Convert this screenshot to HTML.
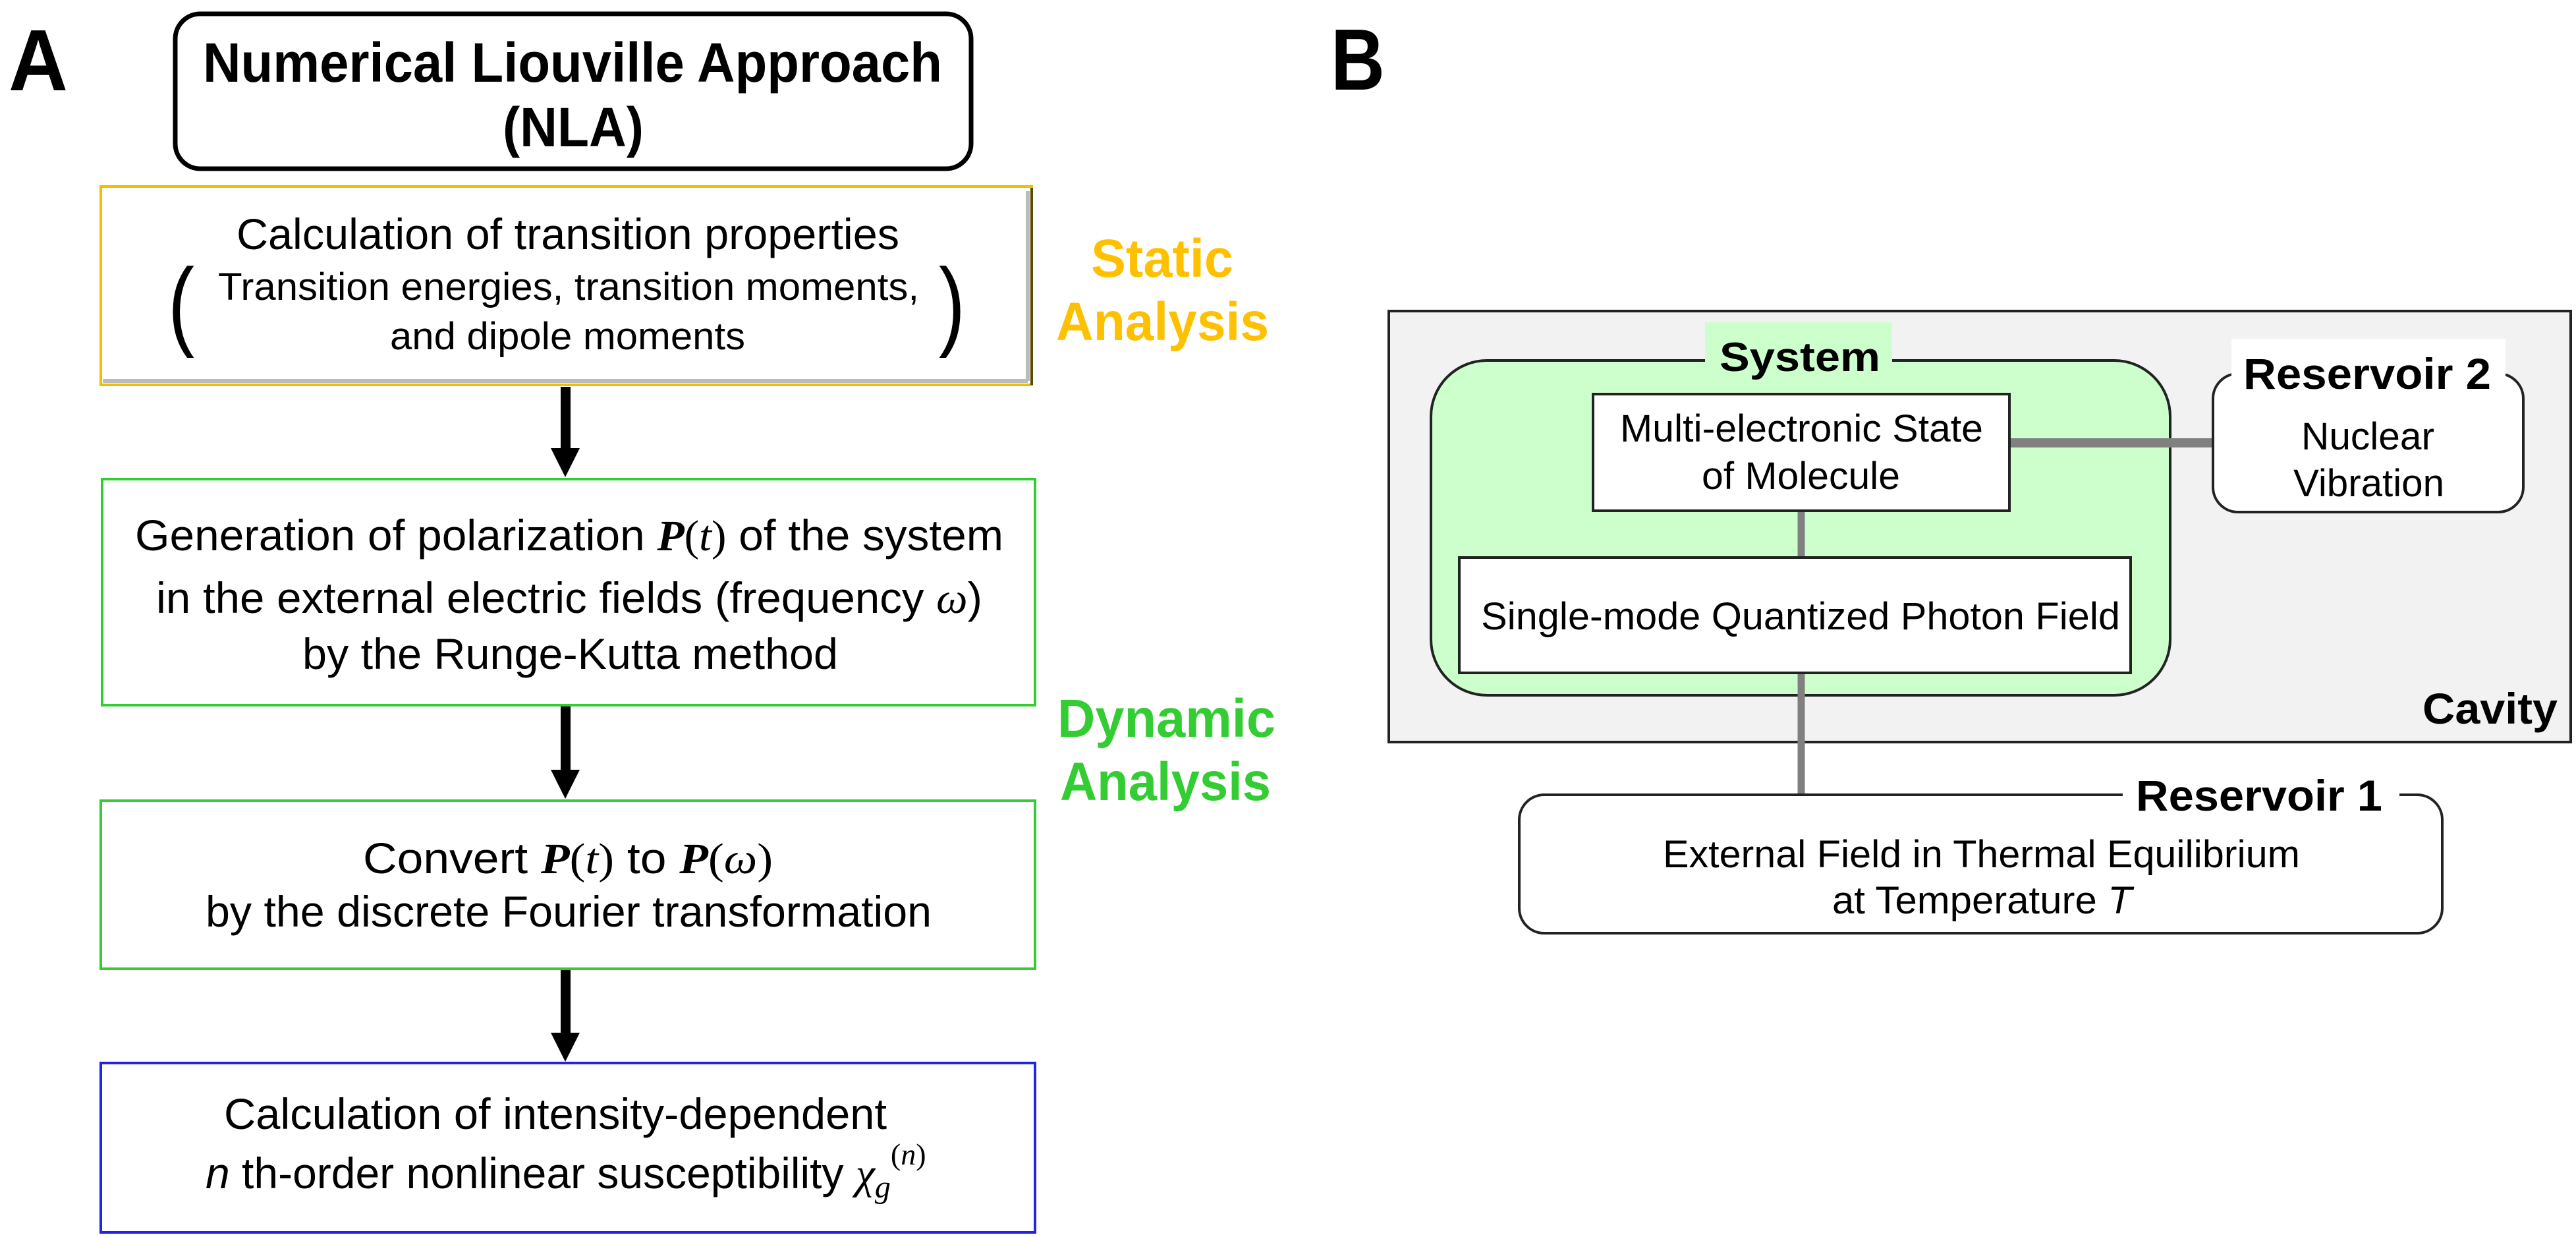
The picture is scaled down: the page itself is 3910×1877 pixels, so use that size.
<!DOCTYPE html>
<html><head><meta charset="utf-8"><style>html,body{margin:0;padding:0;background:#fff}svg{display:block}</style></head>
<body>
<svg width="3910" height="1877" viewBox="0 0 3910 1877" xmlns="http://www.w3.org/2000/svg" font-family="'Liberation Sans', sans-serif">
<rect width="3910" height="1877" fill="#fff"/>
<!-- Panel A -->
<text x="13" y="137" font-size="132" font-weight="bold" textLength="90" lengthAdjust="spacingAndGlyphs">A</text>
<text x="2020" y="136" font-size="132" font-weight="bold" textLength="82" lengthAdjust="spacingAndGlyphs">B</text>

<rect x="266" y="21" width="1208" height="235" rx="38" fill="#fff" stroke="#000" stroke-width="7"/>
<text x="308" y="124" font-size="84" font-weight="bold" textLength="1122" lengthAdjust="spacingAndGlyphs">Numerical Liouville Approach</text>
<text x="763" y="222" font-size="84" font-weight="bold" textLength="214" lengthAdjust="spacingAndGlyphs">(NLA)</text>

<rect x="153" y="283" width="1413" height="301" fill="#fff" stroke="#f0c000" stroke-width="4"/>
<line x1="1566" y1="285" x2="1566" y2="584" stroke="#5a4a00" stroke-width="4"/>
<line x1="1560" y1="290" x2="1560" y2="578" stroke="#bbb" stroke-width="6"/>
<line x1="156" y1="578" x2="1560" y2="578" stroke="#bbb" stroke-width="6"/>
<text x="359" y="378" font-size="66" textLength="1006" lengthAdjust="spacingAndGlyphs">Calculation of transition properties</text>
<text x="331" y="455" font-size="58" textLength="1064" lengthAdjust="spacingAndGlyphs">Transition energies, transition moments,</text>
<text x="592" y="530" font-size="58" textLength="539" lengthAdjust="spacingAndGlyphs">and dipole moments</text>
<text x="255" y="512" font-size="150" textLength="40" lengthAdjust="spacingAndGlyphs">(</text>
<text x="1425" y="512" font-size="150" textLength="40" lengthAdjust="spacingAndGlyphs">)</text>
<text x="1656" y="420" font-size="82" font-weight="bold" fill="#ffc000" textLength="216" lengthAdjust="spacingAndGlyphs">Static</text>
<text x="1603" y="516" font-size="82" font-weight="bold" fill="#ffc000" textLength="323" lengthAdjust="spacingAndGlyphs">Analysis</text>

<!-- arrows -->
<g fill="#000">
<rect x="851" y="587" width="15" height="96"/><polygon points="836,680 880,680 858,724"/>
<rect x="851" y="1071" width="15" height="100"/><polygon points="836,1168 880,1168 858,1212"/>
<rect x="851" y="1470" width="15" height="100"/><polygon points="836,1567 880,1567 858,1611"/>
</g>

<rect x="155" y="727" width="1416" height="343" fill="#fff" stroke="#33cc33" stroke-width="4"/>
<text x="205" y="835" font-size="66" textLength="1318" lengthAdjust="spacingAndGlyphs">Generation of polarization <tspan font-family="'Liberation Serif', serif" font-weight="bold" font-style="italic">P</tspan><tspan font-family="'Liberation Serif', serif">(<tspan font-style="italic">t</tspan>)</tspan> of the system</text>
<text x="237" y="930" font-size="66" textLength="1254" lengthAdjust="spacingAndGlyphs">in the external electric fields (frequency <tspan font-family="'Liberation Serif', serif" font-style="italic">ω</tspan>)</text>
<text x="459" y="1015" font-size="66" textLength="813" lengthAdjust="spacingAndGlyphs">by the Runge-Kutta method</text>
<text x="1605" y="1118" font-size="82" font-weight="bold" fill="#33cc33" textLength="331" lengthAdjust="spacingAndGlyphs">Dynamic</text>
<text x="1609" y="1214" font-size="82" font-weight="bold" fill="#33cc33" textLength="320" lengthAdjust="spacingAndGlyphs">Analysis</text>

<rect x="153" y="1215" width="1418" height="255" fill="#fff" stroke="#33cc33" stroke-width="4"/>
<text x="551" y="1325" font-size="66" textLength="622" lengthAdjust="spacingAndGlyphs">Convert <tspan font-family="'Liberation Serif', serif" font-weight="bold" font-style="italic">P</tspan><tspan font-family="'Liberation Serif', serif">(<tspan font-style="italic">t</tspan>)</tspan> to <tspan font-family="'Liberation Serif', serif" font-weight="bold" font-style="italic">P</tspan><tspan font-family="'Liberation Serif', serif">(<tspan font-style="italic">ω</tspan>)</tspan></text>
<text x="312" y="1406" font-size="66" textLength="1102" lengthAdjust="spacingAndGlyphs">by the discrete Fourier transformation</text>

<rect x="153" y="1613" width="1418" height="257" fill="#fff" stroke="#2222ee" stroke-width="4"/>
<text x="340" y="1713" font-size="66" textLength="1006" lengthAdjust="spacingAndGlyphs">Calculation of intensity-dependent</text>
<text x="312" y="1803" font-size="66"><tspan font-style="italic">n</tspan> th-order nonlinear susceptibility <tspan font-family="'Liberation Serif', serif" font-style="italic">χ</tspan><tspan font-family="'Liberation Serif', serif" font-style="italic" font-size="48" dy="14">g</tspan><tspan font-family="'Liberation Serif', serif" font-size="46" dy="-50">(<tspan font-style="italic">n</tspan>)</tspan></text>

<!-- Panel B -->
<rect x="2108" y="472" width="1794" height="654" fill="#f2f2f2" stroke="#222" stroke-width="4"/>
<rect x="2172" y="547" width="1122" height="508" rx="85" ry="85" fill="#ccffcc" stroke="#222" stroke-width="4"/>
<rect x="2588" y="489" width="284" height="80" fill="#ccffcc"/>
<text x="2610" y="563" font-size="62" font-weight="bold" textLength="244" lengthAdjust="spacingAndGlyphs">System</text>

<line x1="3050" y1="672" x2="3360" y2="672" stroke="#808080" stroke-width="14"/>
<line x1="2734" y1="775" x2="2734" y2="848" stroke="#808080" stroke-width="11"/>
<line x1="2734" y1="1020" x2="2734" y2="1208" stroke="#808080" stroke-width="11"/>

<rect x="2418" y="598" width="632" height="177" fill="#fff" stroke="#222" stroke-width="4"/>
<text x="2459" y="670" font-size="58" textLength="551" lengthAdjust="spacingAndGlyphs">Multi-electronic State</text>
<text x="2583" y="742" font-size="58" textLength="301" lengthAdjust="spacingAndGlyphs">of Molecule</text>

<rect x="2215" y="846" width="1019" height="175" fill="#fff" stroke="#222" stroke-width="4"/>
<text x="2248" y="955" font-size="58" textLength="970" lengthAdjust="spacingAndGlyphs">Single-mode Quantized Photon Field</text>

<rect x="3359" y="567" width="471" height="210" rx="38" fill="#fff" stroke="#222" stroke-width="4"/>
<rect x="3387" y="514" width="416" height="82" fill="#fff"/>
<text x="3405" y="590" font-size="66" font-weight="bold" textLength="376" lengthAdjust="spacingAndGlyphs">Reservoir 2</text>
<text x="3493" y="682" font-size="58" textLength="202" lengthAdjust="spacingAndGlyphs">Nuclear</text>
<text x="3481" y="753" font-size="58" textLength="229" lengthAdjust="spacingAndGlyphs">Vibration</text>

<text x="3677" y="1098" font-size="66" font-weight="bold" textLength="205" lengthAdjust="spacingAndGlyphs">Cavity</text>

<rect x="2306" y="1206" width="1401" height="210" rx="38" fill="#fff" stroke="#222" stroke-width="4"/>
<rect x="3222" y="1160" width="420" height="70" fill="#fff"/>
<text x="3242" y="1230" font-size="66" font-weight="bold" textLength="374" lengthAdjust="spacingAndGlyphs">Reservoir 1</text>
<text x="2524" y="1316" font-size="58" textLength="967" lengthAdjust="spacingAndGlyphs">External Field in Thermal Equilibrium</text>
<text x="2781" y="1386" font-size="58" textLength="455" lengthAdjust="spacingAndGlyphs">at Temperature <tspan font-style="italic">T</tspan></text>
</svg>
</body></html>
